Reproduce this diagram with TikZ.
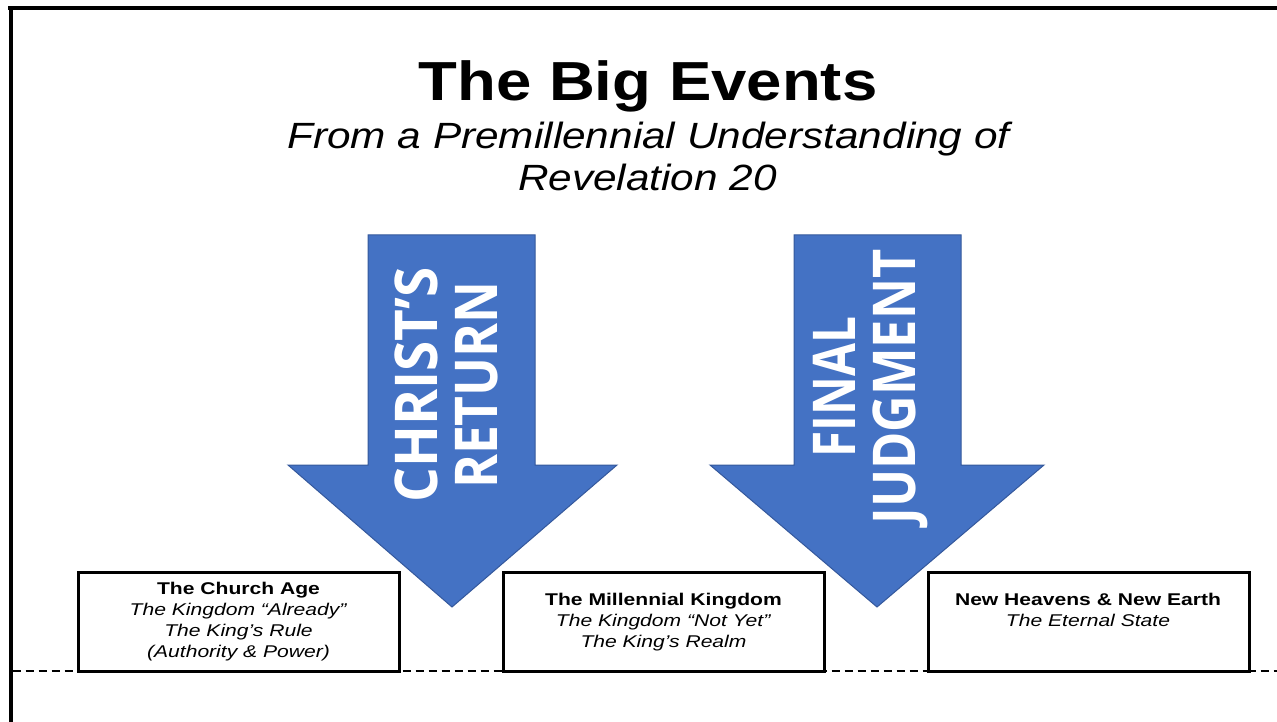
\documentclass[tikz,border=0pt]{standalone}
\usepackage{fontspec}
\setmainfont{Liberation Sans}
\newfontfamily\arrowfont{Open Sans}
\definecolor{arrowblue}{RGB}{68,114,196}
\definecolor{arrowedge}{RGB}{52,88,156}
\newcommand{\hstretch}[2]{\scalebox{#1}[1]{#2}}
\tikzset{
  bigarrow/.style={fill=arrowblue, draw=arrowedge, line width=1pt, line join=miter},
  arrowtext/.style={text=white, font=\arrowfont\bfseries\fontsize{59}{60}\selectfont, align=center, rotate=90, inner sep=0pt},
  eventbox/.style={draw=black, fill=white, line width=3pt, minimum width=321pt, minimum height=99pt, inner sep=0pt},
  boxtext/.style={font=\fontsize{17}{21.2}\selectfont, inner sep=0pt, anchor=base},
  titletext/.style={font=\bfseries\fontsize{55}{55}\selectfont, inner sep=0pt, anchor=base},
  subtext/.style={font=\itshape\fontsize{36.5}{41}\selectfont, inner sep=0pt, anchor=base},
  frame/.style={line width=4pt, black},
  timeline/.style={line width=2.5pt, dash pattern=on 8pt off 5pt}
}
\begin{document}
\begin{tikzpicture}[x=1pt,y=-1pt]
\useasboundingbox (0,0) rectangle (1277,722);
\fill[white] (0,0) rectangle (1277,722);
% frame
\draw[frame] (8,8.5) -- (1277,8.5);
\draw[frame] (10.5,8.5) -- (10.5,722);
% title
\node[titletext] (title) at (648,101) {\hstretch{1.155}{The Big Events}};
\node[subtext] (subtitle1) at (648.5,149) {\hstretch{1.16}{From a Premillennial Understanding of}};
\node[subtext] (subtitle2) at (647.5,191) {\hstretch{1.16}{Revelation 20}};
% timeline
\coordinate (tlstart) at (12.5,671);
\coordinate (tlend) at (1277,671);
\draw[timeline] (tlstart) -- (tlend);
% boxes
\node[eventbox] (church) at (238.5,621.5) {};
\node[eventbox] (mill) at (663.5,621.5) {};
\node[eventbox] (newh) at (1088.5,621.5) {};
\node[boxtext] (churchtxt) at (238.5,594) {\hstretch{1.24}{\begin{tabular}[t]{@{}c@{}}\textbf{The Church Age}\\\textit{The Kingdom “Already”}\\\textit{The King’s Rule}\\\textit{(Authority \& Power)}\end{tabular}}};
\node[boxtext] (milltxt) at (663.5,605) {\hstretch{1.24}{\begin{tabular}[t]{@{}c@{}}\textbf{The Millennial Kingdom}\\\textit{The Kingdom “Not Yet”}\\\textit{The King’s Realm}\end{tabular}}};
\node[boxtext] (newhtxt) at (1088,605) {\hstretch{1.24}{\begin{tabular}[t]{@{}c@{}}\textbf{New Heavens \& New Earth}\\\textit{The Eternal State}\end{tabular}}};
% arrows
\draw[bigarrow] (368,235) -- (535,235) -- (535,465) -- (617,465) -- (452,607) -- (288,465) -- (368,465) -- cycle;
\draw[bigarrow] (794,235) -- (961,235) -- (961,465) -- (1044,465) -- (877,607) -- (710,465) -- (794,465) -- cycle;
\node[arrowtext] (christ) at (446,385) {\hstretch{0.93}{CHRIST’S}\\\hstretch{0.875}{RETURN}};
\node[arrowtext] (final) at (871,387) {\hstretch{0.81}{FINAL}\\\hstretch{0.856}{JUDGMENT}};
\end{tikzpicture}
\end{document}
